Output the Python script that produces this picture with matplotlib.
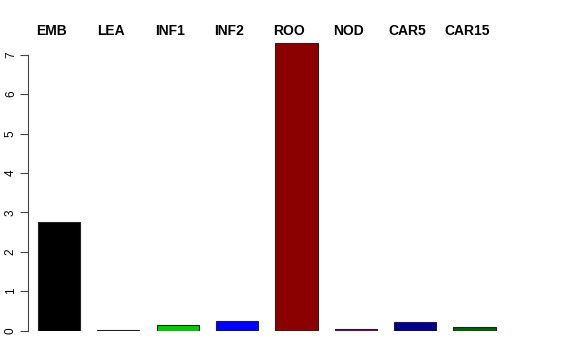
import numpy as np
import matplotlib
matplotlib.use("Agg")
import matplotlib.pyplot as plt

tissues = ["EMB", "LEA", "INF1", "INF2", "ROO", "NOD", "CAR5", "CAR15"]
values = [2.75, 0.01, 0.13, 0.25, 7.29, 0.05, 0.21, 0.10]
colors = ["black", "#3a3a3a", "#00cd00", "blue", "darkred", "purple", "darkblue", "darkgreen"]
yticks = [0, 1, 2, 3, 4, 5, 6, 7]

plt.rcParams['font.family'] = ['Liberation Sans', 'DejaVu Sans']

fig = plt.figure(figsize=(5.76, 3.6), dpi=100)
# axes: left edge at the y-axis line, bottom at value 0
ax = fig.add_axes([28 / 576, 29.5 / 360, (560 - 28) / 576, (331 - 40) / 360])

x = np.arange(len(tissues))
ax.bar(x, values, width=0.71, color=colors, edgecolor="#222222", linewidth=0.8)

ax.set_xlim(-0.522, (560 - 59) / 59.36)
ax.set_ylim(0, (331 - 40) / 39.4)

for s in ["top", "right", "bottom"]:
    ax.spines[s].set_visible(False)
ax.spines["left"].set_bounds(0, 7)
ax.spines["left"].set_color("#444444")
ax.spines["left"].set_linewidth(0.8)
ax.set_yticks(yticks)
ax.set_yticklabels([str(v) for v in yticks], rotation=90, va="center", fontsize=8.5)
ax.tick_params(axis="y", length=6, width=0.8, color="#444444", pad=2)
ax.set_xticks([])

for xi, name in zip(x, tissues):
    ax.annotate(name, xy=(xi - 0.13, 1), xycoords=("data", "axes fraction"),
                xytext=(0, 1), textcoords="offset points",
                ha="center", va="bottom", fontsize=10, fontweight="bold")

fig.savefig("out.png", dpi=100)
